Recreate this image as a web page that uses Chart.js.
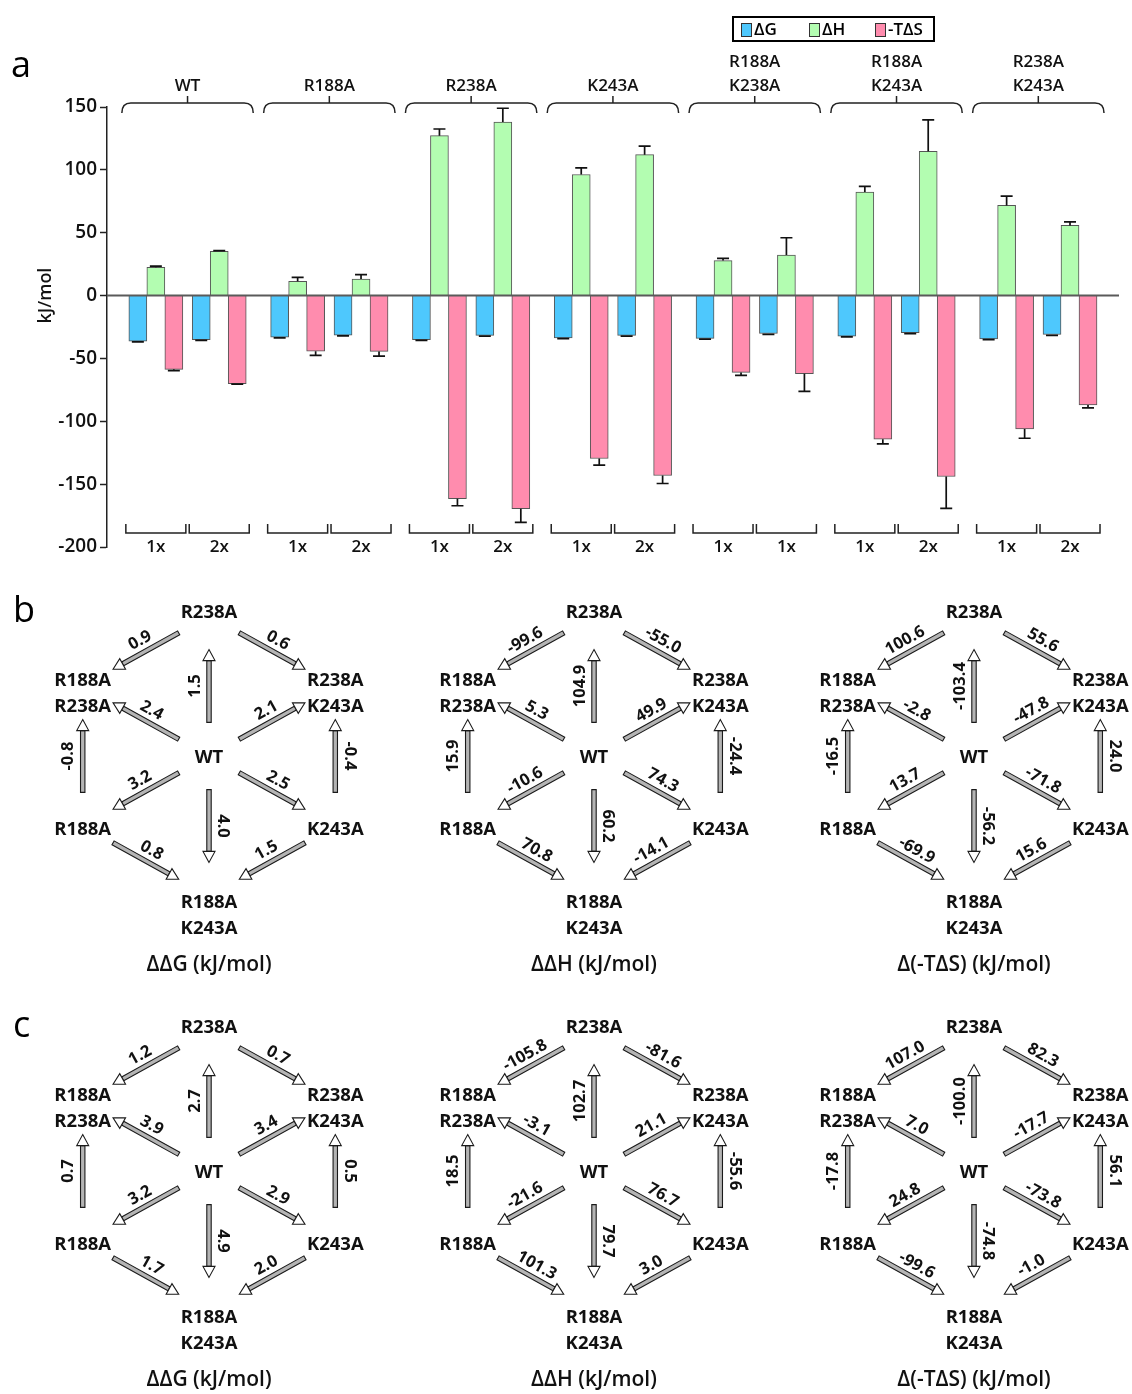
<!DOCTYPE html>
<html>
<head>
<meta charset="utf-8">
<title>ITC thermodynamics</title>
<script src="https://cdn.jsdelivr.net/npm/chart.js@4.4.1/dist/chart.umd.min.js"></script>
<style>
  html, body { margin: 0; padding: 0; background: #fff; }
  body { position: relative; width: 1132px; height: 1394px; overflow: hidden; font-family: 'Open Sans', sans-serif; }
  canvas { position: absolute; }
  .panel { position: absolute; font-size: 36px; line-height: 36px; color: #000; z-index: 2; }
</style>
</head>
<body>
<div class="panel" style="left:11px; top:46px;">a</div>
<div class="panel" style="left:13px; top:591px;">b</div>
<div class="panel" style="left:13px; top:1006px;">c</div>

<canvas id="barChart" width="1132" height="575" style="left:0; top:0;"></canvas>
<canvas id="b0" width="370" height="400" style="left:24px; top:590px;"></canvas>
<canvas id="b1" width="370" height="400" style="left:409px; top:590px;"></canvas>
<canvas id="b2" width="370" height="400" style="left:789px; top:590px;"></canvas>
<canvas id="c0" width="370" height="389" style="left:24px; top:1005px;"></canvas>
<canvas id="c1" width="370" height="389" style="left:409px; top:1005px;"></canvas>
<canvas id="c2" width="370" height="389" style="left:789px; top:1005px;"></canvas>

<script>
// ---- panel a data ----
const groups = ['WT', 'R188A', 'R238A', 'K243A', 'R188A\nK238A', 'R188A\nK243A', 'R238A\nK243A'];
const subLabels = ['1x', '2x', '1x', '2x', '1x', '2x', '1x', '2x', '1x', '1x', '1x', '2x', '1x', '2x'];
const dG   = [-36.3, -35.0, -33.0, -31.5, -35.0, -31.7, -33.6, -31.7, -34.1, -30.2, -32.3, -29.6, -34.4, -31.0];
const dH   = [22.5, 35.2, 11.4, 13.2, 127.2, 138.0, 96.3, 112.1, 27.8, 32.3, 82.3, 114.8, 71.7, 55.8];
const mTdS = [-58.7, -70.0, -44.2, -44.4, -161.6, -169.6, -129.6, -143.1, -61.1, -62.2, -114.3, -143.9, -106.1, -87.0];
const errG = [0.6, 0.6, 0.6, 0.6, 0.6, 0.6, 0.6, 0.6, 0.6, 0.6, 0.6, 0.6, 0.6, 0.6];
const errH = [1.0, 0.5, 3.0, 3.4, 5.3, 11.0, 5.3, 6.7, 1.8, 13.7, 4.5, 24.9, 7.4, 2.9];
const errS = [1.0, 0.4, 3.4, 3.7, 5.6, 10.8, 5.3, 6.4, 2.4, 14.0, 3.7, 25.4, 7.4, 2.4];
const yTicks = { min: -200, max: 150, step: 50 };

// ---- panel b / c data (double mutant cycles) ----
const cycleNodes = ['WT', 'R238A', 'R188A\nR238A', 'R238A\nK243A', 'R188A', 'K243A', 'R188A\nK243A'];
// [from, to] node index for each arrow
const cycleEdges = [[1, 2], [1, 3], [0, 1], [0, 2], [0, 3], [4, 2], [5, 3], [0, 4], [0, 5], [0, 6], [4, 6], [5, 6]];
const cycleTitles = ['ΔΔG (kJ/mol)', 'ΔΔH (kJ/mol)', 'Δ(-TΔS) (kJ/mol)'];
const b_ddG  = [0.9, 0.6, 1.5, 2.4, 2.1, -0.8, -0.4, 3.2, 2.5, 4.0, 0.8, 1.5];
const b_ddH  = [-99.6, -55.0, 104.9, 5.3, 49.9, 15.9, -24.4, -10.6, 74.3, 60.2, 70.8, -14.1];
const b_dTdS = [100.6, 55.6, -103.4, -2.8, -47.8, -16.5, 24.0, 13.7, -71.8, -56.2, -69.9, 15.6];
const c_ddG  = [1.2, 0.7, 2.7, 3.9, 3.4, 0.7, 0.5, 3.2, 2.9, 4.9, 1.7, 2.0];
const c_ddH  = [-105.8, -81.6, 102.7, -3.1, 21.1, 18.5, -55.6, -21.6, 76.7, 79.7, 101.3, 3.0];
const c_dTdS = [107.0, 82.3, -100.0, 7.0, -17.7, -17.8, 56.1, 24.8, -73.8, -74.8, -99.6, -1.0];

const FONT = "'Open Sans', sans-serif";
const BAR = 18;          // bar thickness, px
const SUB_OFF = 0.2235;  // 1x / 2x offset from group centre, in group units

function subX(i) { return (i >> 1) + (i % 2 === 0 ? -SUB_OFF : SUB_OFF); }

// error bars, brackets, labels, legend for panel a
const barDecor = {
  id: 'barDecor',
  afterDatasetsDraw(chart) {
    const { ctx, chartArea: area, scales: { x, y } } = chart;
    ctx.save();
    // zero line
    ctx.strokeStyle = '#5a5a5a';
    ctx.lineWidth = 2;
    ctx.beginPath();
    ctx.moveTo(area.left, y.getPixelForValue(0));
    ctx.lineTo(area.right, y.getPixelForValue(0));
    ctx.stroke();
    // error bars (one-sided, away from zero)
    ctx.strokeStyle = '#111';
    ctx.lineWidth = 1.7;
    chart.data.datasets.forEach((ds, di) => {
      chart.getDatasetMeta(di).data.forEach((bar, i) => {
        const v = ds.data[i].y;
        const yEnd = y.getPixelForValue(v + Math.sign(v) * ds.err[i]);
        ctx.beginPath();
        ctx.moveTo(bar.x, bar.y);
        ctx.lineTo(bar.x, yEnd);
        ctx.moveTo(bar.x - 6, yEnd);
        ctx.lineTo(bar.x + 6, yEnd);
        ctx.stroke();
      });
    });
    ctx.restore();
  },
  afterDraw(chart) {
    const { ctx, chartArea: area, scales: { x } } = chart;
    ctx.save();
    ctx.strokeStyle = '#222';
    ctx.fillStyle = '#111';
    ctx.lineWidth = 1.5;
    ctx.textAlign = 'center';
    ctx.textBaseline = 'middle';
    ctx.font = `600 17px ${FONT}`;

    // top brackets with group names
    groups.forEach((g, k) => {
      const l = x.getPixelForValue(k - SUB_OFF) - 1.5 * BAR - 7;
      const r = x.getPixelForValue(k + SUB_OFF) + 1.5 * BAR + 7;
      const c = x.getPixelForValue(k);
      const yb = area.top - 4;
      ctx.beginPath();
      ctx.moveTo(l, yb + 10);
      ctx.quadraticCurveTo(l, yb, l + 9, yb);
      ctx.lineTo(r - 9, yb);
      ctx.quadraticCurveTo(r, yb, r, yb + 10);
      ctx.moveTo(c, yb);
      ctx.lineTo(c, yb - 7);
      ctx.stroke();
      const lines = g.split('\n');
      lines.forEach((ln, j) => ctx.fillText(ln, c, yb - 17 - (lines.length - 1 - j) * 24));
    });

    // bottom brackets with 1x / 2x
    subLabels.forEach((s, i) => {
      const c = x.getPixelForValue(subX(i));
      const yb = area.bottom - 14;
      ctx.beginPath();
      ctx.moveTo(c - 30, yb - 9);
      ctx.lineTo(c - 30, yb);
      ctx.lineTo(c + 30, yb);
      ctx.lineTo(c + 30, yb - 9);
      ctx.stroke();
      ctx.fillText(s, c, area.bottom);
    });

    // y title
    ctx.save();
    ctx.font = `600 18px ${FONT}`;
    ctx.translate(46, chart.scales.y.getPixelForValue(0));
    ctx.rotate(-Math.PI / 2);
    ctx.fillText('kJ/mol', 0, 0);
    ctx.restore();

    // legend
    const lx = 733, ly = 17, lw = 201, lh = 24;
    ctx.lineWidth = 2;
    ctx.strokeStyle = '#000';
    ctx.strokeRect(lx, ly, lw, lh);
    const itemX = [741, 809, 875];
    ctx.textAlign = 'left';
    ctx.lineWidth = 1;
    chart.data.datasets.forEach((ds, di) => {
      ctx.fillStyle = ds.backgroundColor;
      ctx.fillRect(itemX[di], ly + 6, 10, 13);
      ctx.strokeStyle = '#333';
      ctx.strokeRect(itemX[di] + 0.5, ly + 6.5, 10, 13);
      ctx.fillStyle = '#000';
      ctx.fillText(ds.label, itemX[di] + 13, ly + lh / 2 + 1);
    });
    ctx.restore();
  }
};

function barData(values) { return values.map((v, k) => ({ x: subX(k), y: v })); }

new Chart(document.getElementById('barChart'), {
  type: 'bar',
  data: {
    datasets: [
      { label: 'ΔG', data: barData(dG), err: errG, backgroundColor: '#4ec8fd' },
      { label: 'ΔH', data: barData(dH), err: errH, backgroundColor: '#b3fdb1' },
      { label: '-TΔS', data: barData(mTdS), err: errS, backgroundColor: '#ff8cae' }
    ]
  },
  options: {
    responsive: false,
    animation: false,
    events: [],
    layout: { padding: { left: 0, top: 107, right: 13, bottom: 28 } },
    datasets: {
      bar: { barThickness: BAR, borderWidth: 1, borderColor: '#555', borderSkipped: 'start' }
    },
    plugins: { legend: { display: false }, tooltip: { enabled: false } },
    scales: {
      x: { type: 'linear', display: false, offset: false, min: -0.568, max: 6.569 },
      y: {
        min: yTicks.min,
        max: yTicks.max,
        ticks: { stepSize: yTicks.step, color: '#111', padding: 3, font: { family: FONT, size: 19, weight: '600' } },
        grid: { drawOnChartArea: false, tickLength: 7, tickColor: '#222', tickWidth: 1.5 },
        border: { display: true, color: '#222', width: 1.5 },
        afterFit(scale) { scale.width = 107; }
      }
    }
  },
  plugins: [barDecor]
});

// ---- cycle diagrams ----
const NODE_POS = [[0, 0], [0, 1], [-1, 0.5], [1, 0.5], [-1, -0.5], [1, -0.5], [0, -1]];
const NODE_DY = [2, -3, 8, 8, 4, 4, 20];
const VLABEL_SIDE = { 2: -1, 5: -1, 6: 1, 9: 1 };
const UNIT_Y = 140, WT_TOP = 166;

function drawArrow(ctx, x0, y0, x1, y1) {
  const len = Math.hypot(x1 - x0, y1 - y0);
  const ux = (x1 - x0) / len, uy = (y1 - y0) / len;
  const nx = -uy, ny = ux;
  const hl = 11, hw = 6, sw = 2.2;
  const bx = x1 - ux * hl, by = y1 - uy * hl;
  ctx.lineWidth = 1.1;
  ctx.strokeStyle = '#1a1a1a';
  ctx.beginPath();
  ctx.moveTo(x0 + nx * sw, y0 + ny * sw);
  ctx.lineTo(bx + nx * sw, by + ny * sw);
  ctx.lineTo(bx - nx * sw, by - ny * sw);
  ctx.lineTo(x0 - nx * sw, y0 - ny * sw);
  ctx.closePath();
  ctx.fillStyle = '#b4b4b4';
  ctx.fill();
  ctx.stroke();
  ctx.beginPath();
  ctx.moveTo(x1, y1);
  ctx.lineTo(bx + nx * hw, by + ny * hw);
  ctx.lineTo(bx - nx * hw, by - ny * hw);
  ctx.closePath();
  ctx.fillStyle = '#fff';
  ctx.fill();
  ctx.stroke();
}

const cycleDraw = {
  id: 'cycleDraw',
  afterDatasetsDraw(chart) {
    const { ctx, scales: { x, y } } = chart;
    const ds = chart.data.datasets[0];
    const P = ds.data.map(p => [x.getPixelForValue(p.x), y.getPixelForValue(p.y)]);
    ctx.save();
    ctx.textAlign = 'center';
    ctx.textBaseline = 'middle';

    cycleEdges.forEach(([a, b], k) => {
      const [xa, ya] = P[a], [xb, yb] = P[b];
      const tx = xa + (xb - xa) * 0.24, ty = ya + (yb - ya) * 0.24;
      const hx = xa + (xb - xa) * 0.76, hy = ya + (yb - ya) * 0.76;
      drawArrow(ctx, tx, ty, hx, hy);

      const mx = (tx + hx) / 2, my = (ty + hy) / 2;
      let lx, ly, rot;
      if (VLABEL_SIDE[k] !== undefined) {
        const side = VLABEL_SIDE[k];
        lx = mx + side * 14; ly = my; rot = side * Math.PI / 2;
      } else {
        let ang = Math.atan2(hy - ty, hx - tx);
        if (ang > Math.PI / 2) ang -= Math.PI;
        if (ang < -Math.PI / 2) ang += Math.PI;
        lx = mx + Math.sin(ang) * 12; ly = my - Math.cos(ang) * 12;
        rot = ang;
      }
      ctx.save();
      ctx.translate(lx, ly);
      ctx.rotate(rot);
      ctx.fillStyle = '#111';
      ctx.font = `700 16.5px ${FONT}`;
      ctx.fillText(ds.values[k].toFixed(1), 0, 0);
      ctx.restore();
    });

    ctx.fillStyle = '#111';
    ctx.font = `700 18.5px ${FONT}`;
    cycleNodes.forEach((name, n) => {
      const lines = name.split('\n');
      const cy = P[n][1] + NODE_DY[n];
      lines.forEach((ln, j) => ctx.fillText(ln, P[n][0], cy + (j - (lines.length - 1) / 2) * 26));
    });

    ctx.font = `600 21px ${FONT}`;
    ctx.fillText(ds.title, P[6][0], P[6][1] + 69);
    ctx.restore();
  }
};

function cycleChart(id, values, title) {
  const canvas = document.getElementById(id);
  const H = canvas.height;
  return new Chart(canvas, {
    type: 'scatter',
    data: {
      datasets: [{
        data: NODE_POS.map(p => ({ x: p[0], y: p[1] })),
        pointRadius: 0,
        values: values,
        title: title
      }]
    },
    options: {
      responsive: false,
      animation: false,
      events: [],
      layout: { padding: 0 },
      plugins: { legend: { display: false }, tooltip: { enabled: false } },
      scales: {
        x: { type: 'linear', display: false, min: -1.465, max: 1.465 },
        y: { type: 'linear', display: false, max: WT_TOP / UNIT_Y, min: (WT_TOP - H) / UNIT_Y }
      }
    },
    plugins: [cycleDraw]
  });
}

cycleChart('b0', b_ddG, cycleTitles[0]);
cycleChart('b1', b_ddH, cycleTitles[1]);
cycleChart('b2', b_dTdS, cycleTitles[2]);
cycleChart('c0', c_ddG, cycleTitles[0]);
cycleChart('c1', c_ddH, cycleTitles[1]);
cycleChart('c2', c_dTdS, cycleTitles[2]);
</script>
</body>
</html>
